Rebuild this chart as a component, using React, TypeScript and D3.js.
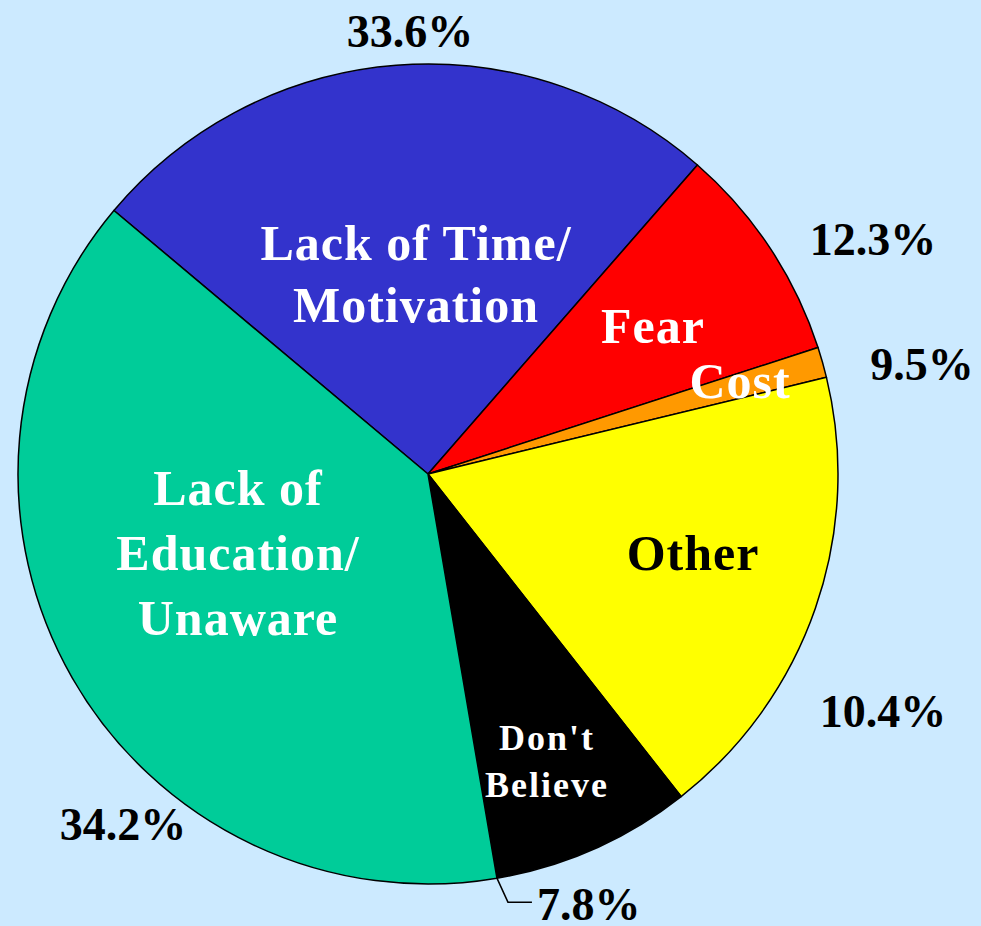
import { pie, arc } from "d3";

// slices, clockwise from the top-left edge of the blue slice
const categories = ["Lack of Time/Motivation", "Fear", "Cost", "Other", "Don't Believe", "Lack of Education/Unaware"];
const shares = [25.3, 8.6, 1.2, 18.2, 7.9, 38.8];
const colors = ["#3333cc", "#ff0000", "#ff9900", "#ffff00", "#000000", "#00cc99"];
const percentLabels = ["33.6%", "12.3%", "9.5%", "10.4%", "7.8%", "34.2%"];
const nameLines = [["Lack of Time/", "Motivation"], ["Fear"], ["Cost"], ["Other"], ["Don't", "Believe"], ["Lack of", "Education/", "Unaware"]];

const W = 981;
const H = 926;
const cx = 428;
const cy = 474;
const R = 410;

// label placement relative to the pie centre (y = first baseline)
const nameAt = [
  { x: -12, y: -214, size: 50, lh: 62, ls: 1 },
  { x: 225, y: -131, size: 50, lh: 0, ls: 1 },
  { x: 312, y: -76, size: 50, lh: 0, ls: 1 },
  { x: 265, y: 96, size: 50, lh: 0, ls: 1 },
  { x: 119, y: 276, size: 36, lh: 47, ls: 2 },
  { x: -190, y: 31, size: 50, lh: 65, ls: 1 },
];
const nameFill = ["#fff", "#fff", "#fff", "#000", "#fff", "#fff"];
const pctAt = [
  { x: -18, y: -427, anchor: "middle" },
  { x: 445, y: -219, anchor: "middle" },
  { x: 494, y: -94, anchor: "middle" },
  { x: 455, y: 253, anchor: "middle" },
  { x: 109, y: 446, anchor: "start" },
  { x: -305, y: 366, anchor: "middle" },
];

export default function App() {
  const slices = pie<number>()
    .sort(null)
    .startAngle((-50 * Math.PI) / 180)
    .endAngle((310 * Math.PI) / 180)(shares);
  const arcGen = arc<any>().innerRadius(0).outerRadius(R);

  const donEdge = slices[4].endAngle;
  const ex = cx + R * Math.sin(donEdge);
  const ey = cy - R * Math.cos(donEdge);

  return (
    <svg width={W} height={H} style={{ position: "absolute", left: 0, top: 0, display: "block" }}>
      <rect width={W} height={H} fill="#cceaff" />
      <g transform={`translate(${cx},${cy})`}>
        {slices.map((s, i) => (
          <path key={categories[i]} d={arcGen(s) ?? ""} fill={colors[i]} stroke="#000" strokeWidth={1.5} strokeLinejoin="round" />
        ))}
      </g>
      <g fontFamily="'Liberation Serif', 'Times New Roman', serif" fontWeight="bold">
        {nameLines.map((lines, i) => {
          const p = nameAt[i];
          return (
            <text key={i} x={cx + p.x} textAnchor="middle" fontSize={p.size} fill={nameFill[i]} letterSpacing={p.ls}>
              {lines.map((l, j) => (
                <tspan key={j} x={cx + p.x} y={cy + p.y + j * p.lh}>
                  {l}
                </tspan>
              ))}
            </text>
          );
        })}
        {percentLabels.map((t, i) => (
          <text key={t} x={cx + pctAt[i].x} y={cy + pctAt[i].y} textAnchor={pctAt[i].anchor as any} fontSize={46} fill="#000">
            {t}
          </text>
        ))}
      </g>
      <polyline
        points={`${ex},${ey} ${ex + 11},${ey + 24} ${ex + 35},${ey + 24}`}
        fill="none"
        stroke="#000"
        strokeWidth={1.5}
      />
    </svg>
  );
}
